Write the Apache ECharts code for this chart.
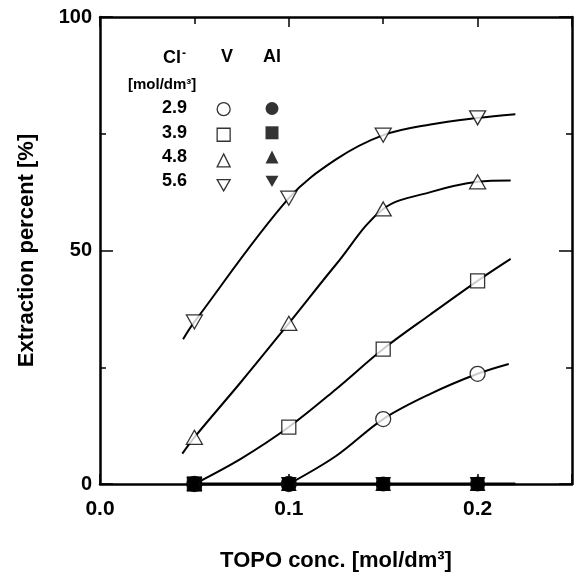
<!DOCTYPE html>
<html>
<head>
<meta charset="utf-8">
<script src="https://cdn.jsdelivr.net/npm/echarts@6/dist/echarts.min.js"></script>
<style>html,body{margin:0;padding:0;background:#fff}#c{width:577px;height:580px}</style>
</head>
<body>
<div id="c"></div>
<script>
// ---- data ----
const topoConc = [0.05, 0.10, 0.15, 0.20];
const clLevels = ['2.9', '3.9', '4.8', '5.6'];
const v29 = [0, 0, 13.9, 23.6];
const v39 = [0, 12.2, 28.9, 43.5];
const v48 = [10.0, 34.4, 58.9, 64.7];
const v56 = [34.7, 61.2, 74.7, 78.4];
const al29 = [0, 0, 0, 0];
const al39 = [0, 0, 0, 0];
const al48 = [0, 0, 0, 0];
const al56 = [0, 0, 0, 0];
// fitted curves
const curve29X = [0.10, 0.125, 0.15, 0.175, 0.20, 0.2165];
const curve29Y = [0, 6.0, 13.9, 19.3, 23.6, 25.7];
const curve39X = [0.05, 0.075, 0.10, 0.125, 0.15, 0.175, 0.20, 0.2175];
const curve39Y = [0, 5.5, 12.2, 20.3, 28.9, 36.3, 43.5, 48.2];
const curve48X = [0.0436, 0.05, 0.075, 0.10, 0.125, 0.15, 0.175, 0.20, 0.2175];
const curve48Y = [6.5, 10.0, 22.0, 34.4, 47.0, 58.9, 62.5, 64.7, 65.0];
const curve56X = [0.044, 0.05, 0.10, 0.125, 0.15, 0.175, 0.20, 0.22];
const curve56Y = [31.0, 34.7, 61.2, 69.5, 74.7, 77.0, 78.4, 79.2];
const alCurveX = [0.05, 0.22];
const alCurveY = [0, 0];
const xTicks = [0.0, 0.1, 0.2];
const yTicks = [0, 50, 100];

// ---- chart ----
const FONT = 'Liberation Sans';
const zip = (xs, ys) => xs.map((x, i) => [x, ys[i]]);
const downTri = 'path://M0,0 L20,0 L10,17.3 Z';
const openStyle = {color: '#fff', borderColor: '#000', borderWidth: 1.3};
const fillStyle = {color: '#000', borderColor: '#000', borderWidth: 0};
const symbols = ['circle', 'rect', 'triangle', downTri];
const sizes = [15, 14, [16, 14], [16, 14]];
const vData = [v29, v39, v48, v56];
const alData = [al29, al39, al48, al56];
const curves = [[curve29X, curve29Y], [curve39X, curve39Y], [curve48X, curve48Y], [curve56X, curve56Y]];

const series = [];
curves.forEach((c, i) => series.push({
  type: 'line', name: 'fit' + i, data: zip(c[0], c[1]), smooth: 0.35,
  symbol: 'none', lineStyle: {color: '#000', width: 2}, silent: true, z: 2
}));
series.push({type: 'line', name: 'alfit', data: zip(alCurveX, alCurveY), symbol: 'none',
  lineStyle: {color: '#000', width: 3}, z: 2});
vData.forEach((d, i) => series.push({
  type: 'scatter', name: 'V ' + clLevels[i], data: zip(topoConc, d),
  symbol: symbols[i], symbolSize: sizes[i], itemStyle: openStyle, z: 3
}));
alData.forEach((d, i) => series.push({
  type: 'scatter', name: 'Al ' + clLevels[i], data: zip(topoConc, d),
  symbol: symbols[i], symbolSize: sizes[i], itemStyle: fillStyle, z: 4
}));

const legendCommon = {
  orient: 'vertical', itemWidth: 13, itemHeight: 13, itemGap: 11.3,
  formatter: () => '', textStyle: {fontSize: 8}, selectedMode: false, padding: 0
};
const iconFor = i => (i === 3 ? downTri : (i === 1 ? 'rect' : (i === 0 ? 'circle' : 'triangle')));

const graphics = [];
graphics.push({type: 'text', left: 163, top: 48, style: {
  text: '{b|Cl}{s|-}', rich: {b: {font: 'bold 18px ' + FONT, fill: '#000'}, s: {font: 'bold 12px ' + FONT, fill: '#000', verticalAlign: 'top', padding: [0, 0, 8, 1]}}}});
graphics.push({type: 'text', x: 227, y: 57, style: {text: 'V', font: 'bold 18px ' + FONT, fill: '#000', align: 'center', verticalAlign: 'middle'}});
graphics.push({type: 'text', x: 272, y: 57, style: {text: 'Al', font: 'bold 18px ' + FONT, fill: '#000', align: 'center', verticalAlign: 'middle'}});
graphics.push({type: 'text', x: 128, y: 85, style: {text: '[mol/dm³]', font: 'bold 15px ' + FONT, fill: '#000', align: 'left', verticalAlign: 'middle'}});
clLevels.forEach((t, i) => graphics.push({type: 'text', x: 187, y: 108.5 + i * 24.3,
  style: {text: t, font: 'bold 18px ' + FONT, fill: '#000', align: 'right', verticalAlign: 'middle'}}));

const isTenth = v => Math.abs(v * 10 - Math.round(v * 10)) < 1e-6 && v <= 0.2 + 1e-9;
const option = {
  backgroundColor: '#fff',
  animation: false,
  textStyle: {fontFamily: FONT},
  grid: {left: 100, right: 5, top: 17, bottom: 96},
  legend: [
    Object.assign({}, legendCommon, {left: 216.5, top: 102,
      data: clLevels.map((c, i) => ({name: 'V ' + c, icon: iconFor(i), itemStyle: openStyle}))}),
    Object.assign({}, legendCommon, {left: 265.5, top: 102,
      data: clLevels.map((c, i) => ({name: 'Al ' + c, icon: iconFor(i), itemStyle: fillStyle}))})
  ],
  xAxis: [{
    type: 'value', min: 0, max: 0.25, interval: 0.1, position: 'bottom',
    name: 'TOPO conc. [mol/dm³]', nameLocation: 'middle', nameGap: 66,
    nameTextStyle: {fontFamily: FONT, fontWeight: 'bold', fontSize: 22, color: '#000'},
    axisLine: {show: true, onZero: false, lineStyle: {color: '#000', width: 2.5}},
    axisTick: {show: true, inside: true, length: 10, lineStyle: {color: '#000', width: 1.5}},
    minorTick: {show: true, splitNumber: 2, length: 7, lineStyle: {color: '#000', width: 1.5}},
    axisLabel: {margin: 15, fontFamily: FONT, fontWeight: 'bold', fontSize: 21, color: '#000',
      formatter: v => (isTenth(v) ? xTicks.find(t => Math.abs(t - v) < 1e-9).toFixed(1) : '')},
    splitLine: {show: false}
  }, {
    type: 'value', min: 0, max: 0.25, interval: 0.1, position: 'top',
    axisLine: {show: true, onZero: false, lineStyle: {color: '#000', width: 2.5}},
    axisTick: {show: true, inside: true, length: 10, lineStyle: {color: '#000', width: 1.5}},
    minorTick: {show: true, splitNumber: 2, length: 7, lineStyle: {color: '#000', width: 1.5}},
    axisLabel: {show: false}, splitLine: {show: false}
  }],
  yAxis: [{
    type: 'value', min: 0, max: 100, interval: 50, position: 'left',
    name: 'Extraction percent [%]', nameLocation: 'middle', nameGap: 62,
    nameTextStyle: {fontFamily: FONT, fontWeight: 'bold', fontSize: 22, color: '#000'},
    axisLine: {show: true, onZero: false, lineStyle: {color: '#000', width: 2.5}},
    axisTick: {show: true, inside: true, length: 13, lineStyle: {color: '#000', width: 1.5}},
    minorTick: {show: true, splitNumber: 2, length: 6, lineStyle: {color: '#000', width: 1.5}},
    axisLabel: {margin: 8, fontFamily: FONT, fontWeight: 'bold', fontSize: 20, color: '#000',
      formatter: v => (yTicks.indexOf(v) >= 0 ? String(v) : '')},
    splitLine: {show: false}
  }, {
    type: 'value', min: 0, max: 100, interval: 50, position: 'right',
    axisLine: {show: true, onZero: false, lineStyle: {color: '#000', width: 2.5}},
    axisTick: {show: true, inside: true, length: 13, lineStyle: {color: '#000', width: 1.5}},
    minorTick: {show: true, splitNumber: 2, length: 6, lineStyle: {color: '#000', width: 1.5}},
    axisLabel: {show: false}, splitLine: {show: false}
  }],
  graphic: graphics,
  series: series
};
const chart = echarts.init(document.getElementById('c'), null, {renderer: 'canvas'});
chart.setOption(option);
</script>
</body>
</html>
